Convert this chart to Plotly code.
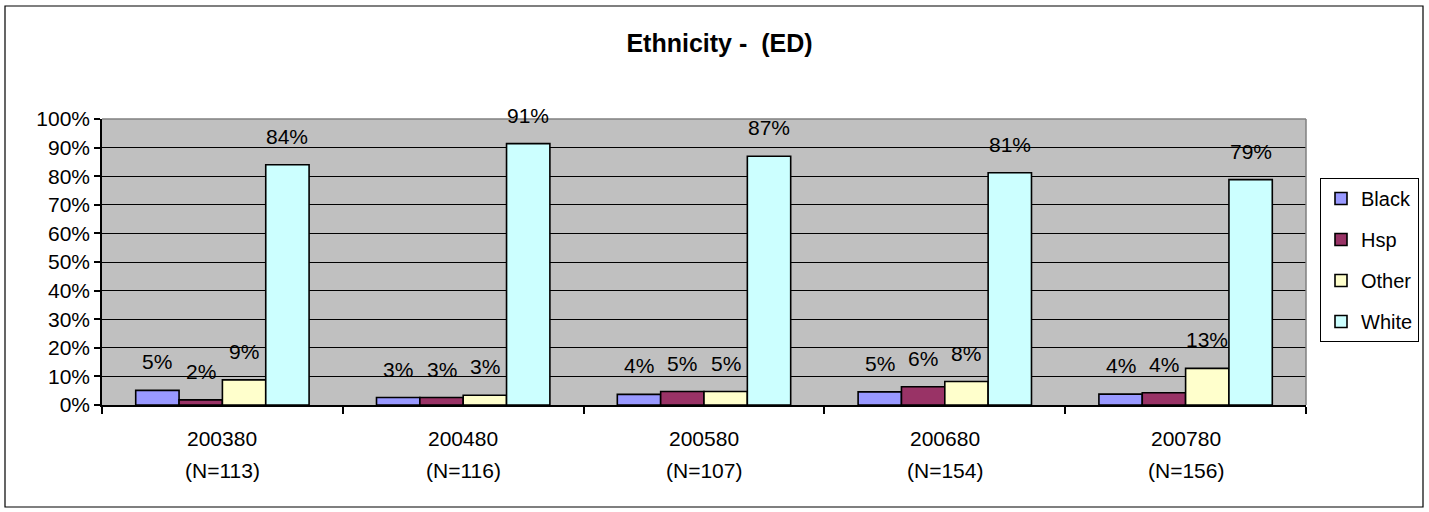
import plotly.graph_objects as go

# ---- data ----
categories = ["200380", "200480", "200580", "200680", "200780"]
sample_sizes = ["(N=113)", "(N=116)", "(N=107)", "(N=154)", "(N=156)"]
series_names = ["Black", "Hsp", "Other", "White"]
black = [5.1, 2.6, 3.7, 4.6, 3.8]
hsp = [1.8, 2.6, 4.7, 6.4, 4.3]
other = [8.8, 3.4, 4.7, 8.2, 12.8]
white = [84.0, 91.4, 87.0, 81.2, 78.8]
y_ticks = [0, 10, 20, 30, 40, 50, 60, 70, 80, 90, 100]

series_values = [black, hsp, other, white]
colors = ["#9999FF", "#993366", "#FFFFCC", "#CCFFFF"]

# non-numeric category keys so the axis stays categorical
cat_keys = [f"{c} {n}" for c, n in zip(categories, sample_sizes)]

W, H = 1429, 512
ML, MR, MT, MB = 102, 123, 119, 107
BARGAP = 0.28
FONT = "Liberation Sans, Arial, sans-serif"

fig = go.Figure()
for name, vals, col in zip(series_names, series_values, colors):
    fig.add_trace(go.Bar(
        name=name, x=cat_keys, y=vals,
        marker=dict(color=col, line=dict(color="black", width=1.6)),
        legendgroup=name,
    ))

# data labels above bars
plot_w = W - ML - MR
plot_h = H - MT - MB
bar_px = plot_w / len(categories) * (1 - BARGAP) / len(series_names)
annotations = []
for i, vals in enumerate(series_values):
    xs = (i - (len(series_names) - 1) / 2) * bar_px
    for k, v in zip(cat_keys, vals):
        annotations.append(dict(
            x=k, y=v, xref="x", yref="y", text=f"{round(v)}%",
            showarrow=False, xshift=xs, yshift=15, yanchor="bottom",
            font=dict(family=FONT, size=21, color="black"),
        ))

# category labels (two lines)
for k, c, n in zip(cat_keys, categories, sample_sizes):
    annotations.append(dict(x=k, y=-33 / plot_h, xref="x", yref="paper", text=c,
                            showarrow=False, yanchor="middle",
                            font=dict(family=FONT, size=21, color="black")))
    annotations.append(dict(x=k, y=-65 / plot_h, xref="x", yref="paper", text=n,
                            showarrow=False, yanchor="middle",
                            font=dict(family=FONT, size=21, color="black")))

shapes = [
    # plot area top & right border (gray)
    dict(type="line", xref="paper", yref="paper", x0=0, x1=1, y0=1, y1=1,
         line=dict(color="#808080", width=1.5)),
    dict(type="line", xref="paper", yref="paper", x0=1, x1=1, y0=0, y1=1,
         line=dict(color="#808080", width=1.5)),
    # outer chart border
    dict(type="rect", xref="paper", yref="paper",
         x0=(5 - ML) / plot_w, x1=(1423 - ML) / plot_w,
         y0=(H - MB - 507) / plot_h, y1=(H - MB - 6) / plot_h,
         line=dict(color="black", width=1.2)),
]

fig.update_layout(
    width=W, height=H,
    margin=dict(l=ML, r=MR, t=MT, b=MB, autoexpand=False),
    paper_bgcolor="white", plot_bgcolor="#C0C0C0",
    barmode="group", bargap=BARGAP, bargroupgap=0,
    font=dict(family=FONT, size=20, color="black"),
    title=dict(text="<b>Ethnicity -  (ED)</b>", x=0.5 + 5 / W, xanchor="center",
               y=1 - 43 / H, yanchor="middle",
               font=dict(family=FONT, size=25, color="black")),
    xaxis=dict(type="category", categoryorder="array", categoryarray=cat_keys,
               showticklabels=False, showgrid=False,
               showline=True, linecolor="black", linewidth=1.5,
               ticks="outside", tickson="boundaries", ticklen=7,
               tickcolor="black", tickwidth=1.5),
    yaxis=dict(range=[0, 100], tickmode="array", tickvals=y_ticks,
               ticktext=[f"{v}%" for v in y_ticks],
               showgrid=True, gridcolor="#000000", gridwidth=1,
               zeroline=False, showline=True, linecolor="black", linewidth=1.5,
               ticks="outside", ticklen=6, tickcolor="black", tickwidth=1.5,
               tickfont=dict(family=FONT, size=21, color="black")),
    legend=dict(xref="container", x=1320 / W, xanchor="left",
                yref="container", y=1 - 260 / H, yanchor="middle",
                bordercolor="black", borderwidth=1, bgcolor="white",
                font=dict(family=FONT, size=20, color="black"),
                traceorder="grouped", tracegroupgap=12, itemwidth=30),
    annotations=annotations,
    shapes=shapes,
    showlegend=True,
)

fig.write_html("out.html", config={"displayModeBar": False},
               post_script="document.body.style.margin='0px';document.body.style.padding='0px';")
